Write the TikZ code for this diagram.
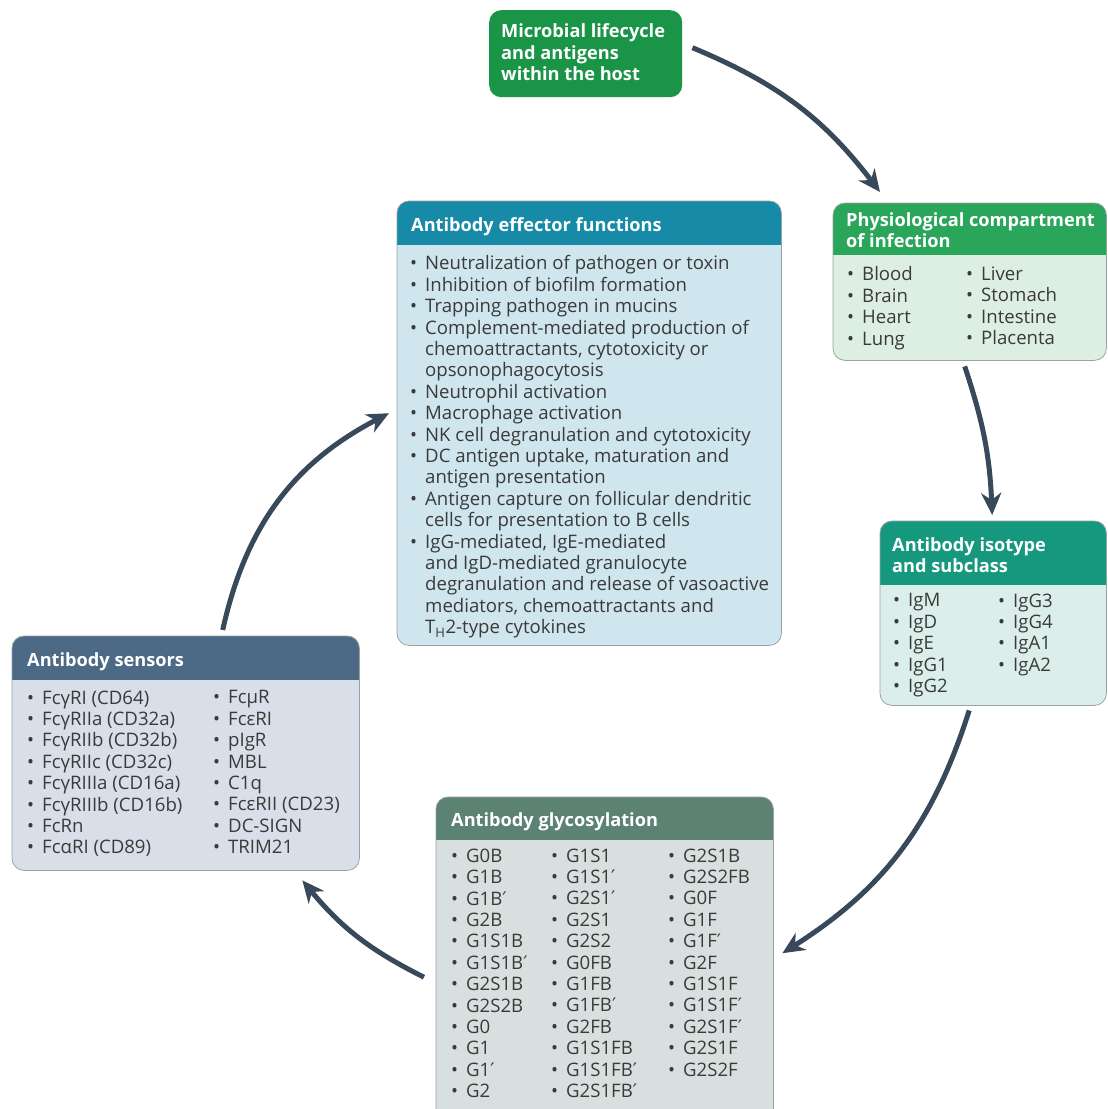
\documentclass[tikz,border=0pt]{standalone}
\usepackage{fontspec}
\setmainfont{Open Sans}
\newfontfamily\symfont{DejaVu Sans}
\usetikzlibrary{arrows.meta}

\definecolor{microgreen}{HTML}{1A9446}
\definecolor{physhead}{HTML}{2AA65A}
\definecolor{physbody}{HTML}{DDEEE2}
\definecolor{isohead}{HTML}{16987E}
\definecolor{isobody}{HTML}{DBEEEA}
\definecolor{senshead}{HTML}{4C6A86}
\definecolor{sensbody}{HTML}{D9DFE8}
\definecolor{glycohead}{HTML}{5B8273}
\definecolor{glycobody}{HTML}{D8E0DF}
\definecolor{effhead}{HTML}{178AA8}
\definecolor{effbody}{HTML}{CFE6EE}
\definecolor{boxline}{HTML}{9AA3A3}
\definecolor{bodytext}{HTML}{3A3A3A}
\definecolor{arrowgrey}{HTML}{37495A}

\newcommand{\bl}{\makebox[15pt][l]{\textbullet}}
\newcommand{\cont}{\hspace*{15pt}}
\newcommand{\pr}{{\symfont ′}}
% header band of a box, cut to its rounded outline
\newcommand{\boxhead}[3]{%
  \begin{scope}
    \clip[rounded corners=12pt] (#1.north west) rectangle (#1.south east);
    \fill[#2] (#1.north west) rectangle (#1.east |- 0,#3);
  \end{scope}
  \draw[boxline, line width=0.8pt, rounded corners=12pt] (#1.north west) rectangle (#1.south east);}

\begin{document}
\begin{tikzpicture}[x=1pt,y=-1pt,
  box/.style={rounded corners=12pt, anchor=north west, inner sep=0pt},
  head/.style={font=\bfseries\fontsize{18.2}{21.4}\selectfont, text=white, align=left, anchor=north west, inner sep=0pt},
  items/.style={font=\fontsize{18.6}{21.4}\selectfont, text=bodytext, align=left, anchor=north west, inner sep=0pt},
  flow/.style={draw=arrowgrey, line width=5pt, -{Stealth[length=22pt,width=20pt,inset=7pt]}}]
\useasboundingbox[fill=white] (0,0) rectangle (1108,1109);

% microbe
\node[box, fill=microgreen, minimum width=193, minimum height=87] (micro) at (489,10) {};
\node[head] (microtxt) at (501,23.5) {Microbial lifecycle\\and antigens\\within the host};

% compartment
\node[box, fill=physbody, minimum width=273, minimum height=157] (phys) at (833,203) {};
\boxhead{phys}{physhead}{255}
\node[head] (phystitle) at (846,212.5) {Physiological compartment\\of infection};
\node[items] (physa) at (847,266.5) {\bl Blood\\\bl Brain\\\bl Heart\\\bl Lung};
\node[items] (physb) at (966,266.5) {\bl Liver\\\bl Stomach\\\bl Intestine\\\bl Placenta};

% isotype
\node[box, fill=isobody, minimum width=226, minimum height=184] (iso) at (880,521) {};
\boxhead{iso}{isohead}{585}
\node[head] (isotitle) at (892,537.5) {Antibody isotype\\and subclass};
\node[items] (isoa) at (893,593.5) {\bl IgM\\\bl IgD\\\bl IgE\\\bl IgG1\\\bl IgG2};
\node[items] (isob) at (998,593.5) {\bl IgG3\\\bl IgG4\\\bl IgA1\\\bl IgA2};

% glycans
\node[box, fill=glycobody, minimum width=337, minimum height=330] (glyco) at (436,797) {};
\boxhead{glyco}{glycohead}{840}
\node[head] (glycotitle) at (451,812.5) {Antibody glycosylation};
\node[items] (glycoa) at (451,848.5) {\bl G0B\\\bl G1B\\\bl G1B\pr\\\bl G2B\\\bl G1S1B\\\bl G1S1B\pr\\\bl G2S1B\\\bl G2S2B\\\bl G0\\\bl G1\\\bl G1\pr\\\bl G2};
\node[items] (glycob) at (551,848.5) {\bl G1S1\\\bl G1S1\pr\\\bl G2S1\pr\\\bl G2S1\\\bl G2S2\\\bl G0FB\\\bl G1FB\\\bl G1FB\pr\\\bl G2FB\\\bl G1S1FB\\\bl G1S1FB\pr\\\bl G2S1FB\pr};
\node[items] (glycoc) at (668,848.5) {\bl G2S1B\\\bl G2S2FB\\\bl G0F\\\bl G1F\\\bl G1F\pr\\\bl G2F\\\bl G1S1F\\\bl G1S1F\pr\\\bl G2S1F\pr\\\bl G2S1F\\\bl G2S2F};

% receptors
\node[box, fill=sensbody, minimum width=347, minimum height=234] (sens) at (12,636) {};
\boxhead{sens}{senshead}{680}
\node[head] (senstitle) at (27,652.5) {Antibody sensors};
\node[items] (sensa) at (27,690.5) {\bl FcγRI (CD64)\\\bl FcγRIIa (CD32a)\\\bl FcγRIIb (CD32b)\\\bl FcγRIIc (CD32c)\\\bl FcγRIIIa (CD16a)\\\bl FcγRIIIb (CD16b)\\\bl FcRn\\\bl FcαRI (CD89)};
\node[items] (sensb) at (213,690.5) {\bl FcμR\\\bl FcεRI\\\bl pIgR\\\bl MBL\\\bl C1q\\\bl FcεRII (CD23)\\\bl DC-SIGN\\\bl TRIM21};

% effector functions
\node[box, fill=effbody, minimum width=384, minimum height=444] (eff) at (397,201) {};
\boxhead{eff}{effhead}{245}
\node[head] (efftitle) at (411,217.5) {Antibody effector functions};
\node[items] (efflist) at (410,255.5) {\bl Neutralization of pathogen or toxin\\
\bl Inhibition of biofilm formation\\
\bl Trapping pathogen in mucins\\
\bl Complement-mediated production of\\
\cont chemoattractants, cytotoxicity or\\
\cont opsonophagocytosis\\
\bl Neutrophil activation\\
\bl Macrophage activation\\
\bl NK cell degranulation and cytotoxicity\\
\bl DC antigen uptake, maturation and\\
\cont antigen presentation\\
\bl Antigen capture on follicular dendritic\\
\cont cells for presentation to B cells\\
\bl IgG-mediated, IgE-mediated\\
\cont and IgD-mediated granulocyte\\
\cont degranulation and release of vasoactive\\
\cont mediators, chemoattractants and\\
\cont T\textsubscript{H}2-type cytokines};

% cycle
\draw[flow] ([shift={(10,-6)}]micro.east) to[bend left=15] ([shift={(47,-11)}]phys.north west);
\draw[flow] ([shift={(-5,6)}]phys.south) to[bend left=8] ([shift={(-1,-6)}]iso.north);
\draw[flow] ([shift={(-24,5)}]iso.south) to[bend left=20] ([shift={(9,-9)}]glyco.east);
\draw[flow] ([shift={(-12,15)}]glyco.west) to[bend left=12] ([shift={(-57,10)}]sens.south east);
\draw[flow] ([shift={(37,-6)}]sens.north) to[bend left=25] ([shift={(-8,-10)}]eff.west);
\end{tikzpicture}
\end{document}
